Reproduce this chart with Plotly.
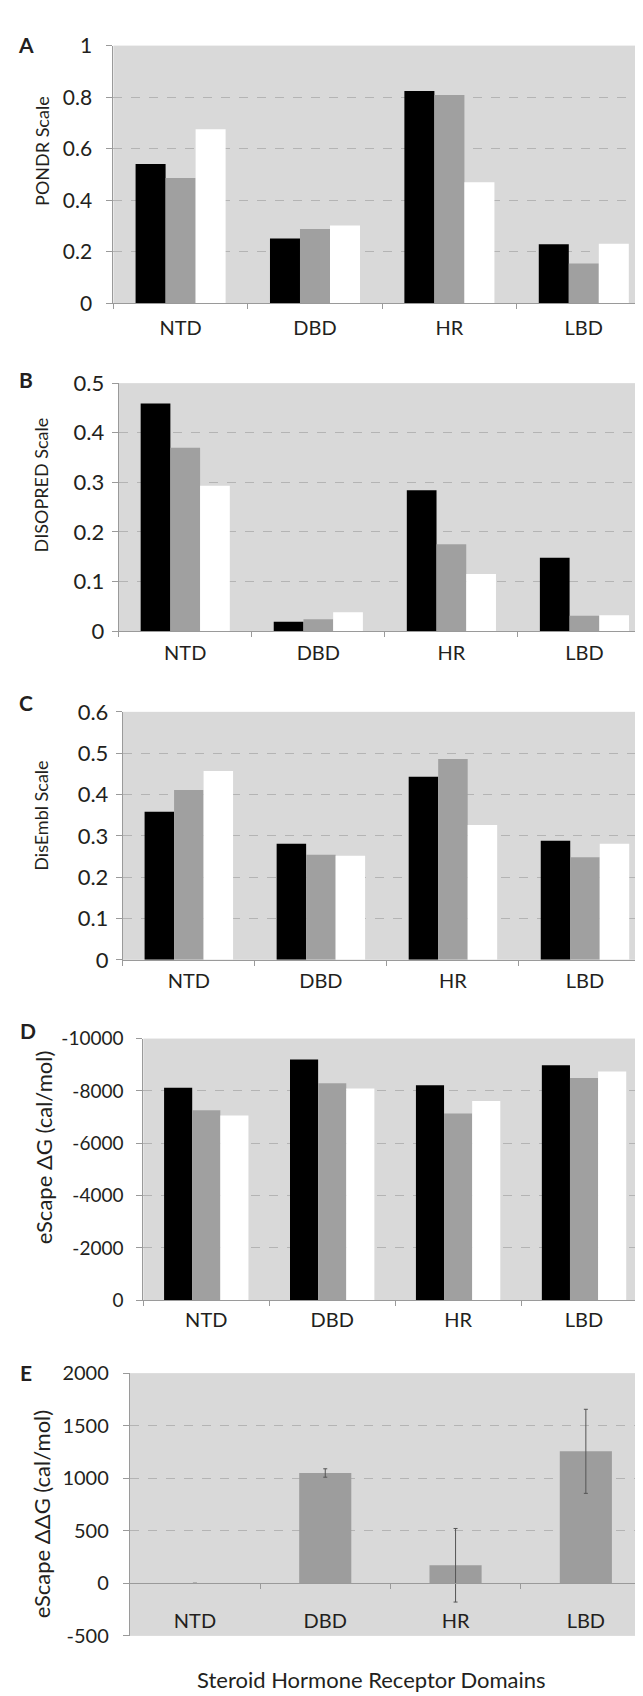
import plotly.graph_objects as go

# ---------------- data ----------------
categories = ["NTD", "DBD", "HR", "LBD"]

pondr_black = [0.541, 0.252, 0.824, 0.230]
pondr_gray = [0.487, 0.289, 0.808, 0.155]
pondr_white = [0.676, 0.302, 0.470, 0.232]

disopred_black = [0.459, 0.019, 0.284, 0.148]
disopred_gray = [0.370, 0.024, 0.175, 0.031]
disopred_white = [0.293, 0.038, 0.115, 0.032]

disembl_black = [0.358, 0.281, 0.443, 0.288]
disembl_gray = [0.411, 0.254, 0.486, 0.248]
disembl_white = [0.457, 0.252, 0.326, 0.281]

dg_black = [-8120, -9200, -8220, -8980]
dg_gray = [-7265, -8295, -7140, -8495]
dg_white = [-7065, -8095, -7615, -8745]

ddg_values = [0, 1050, 172, 1256]
ddg_errors = [0, 40, 350, 400]

ticks_a = [0, 0.2, 0.4, 0.6, 0.8, 1]
ticklabels_a = ["0", "0.2", "0.4", "0.6", "0.8", "1"]
ticks_b = [0, 0.1, 0.2, 0.3, 0.4, 0.5]
ticklabels_b = ["0", "0.1", "0.2", "0.3", "0.4", "0.5"]
ticks_c = [0, 0.1, 0.2, 0.3, 0.4, 0.5, 0.6]
ticklabels_c = ["0", "0.1", "0.2", "0.3", "0.4", "0.5", "0.6"]
ticks_d = [0, -2000, -4000, -6000, -8000, -10000]
ticklabels_d = ["0", "-2000", "-4000", "-6000", "-8000", "-10000"]
ticks_e = [-500, 0, 500, 1000, 1500, 2000]
ticklabels_e = ["-500", "0", "500", "1000", "1500", "2000"]

y_titles = ["PONDR Scale", "DISOPRED Scale", "DisEmbl Scale",
            "eScape \u0394G (cal/mol)", "eScape \u0394\u0394G (cal/mol)"]
panel_letters = ["A", "B", "C", "D", "E"]
x_title = "Steroid Hormone Receptor Domains"

# ---------------- styling / layout ----------------
W, H = 643, 1696
FONT = "Lato"
TXT = "#231f20"
BG = "#d9d9d9"
AXC = "#9a9a9a"
GRID = "#b4b4b4"
COL_BLACK = "#000000"
COL_GRAY = "#a0a0a0"
COL_WHITE = "#ffffff"


def xd(left, right):
    return [left / W, right / W]


def yd(top, bottom):
    return [1 - bottom / H, 1 - top / H]


panels = [
    dict(x=(105.4, 643), y=(24, 286), yr=[0, 1], tv=ticks_a, tt=ticklabels_a, tfs=21, xfs=20,
         series=[pondr_black, pondr_gray, pondr_white], tstand=10, xstand=7,
         ytx=34.5, yty=131.5, tfs_title=18, lx=18, ly=23),
    dict(x=(110.7, 643), y=(367, 619), yr=[0, 0.5], tv=ticks_b, tt=ticklabels_b, tfs=22, xfs=20,
         series=[disopred_black, disopred_gray, disopred_white], tstand=3, xstand=4,
         ytx=33, yty=471, tfs_title=18, lx=18, ly=363),
    dict(x=(114.8, 643), y=(701, 953), yr=[0, 0.6], tv=ticks_c, tt=ticklabels_c, tfs=22, xfs=20,
         series=[disembl_black, disembl_gray, disembl_white], tstand=3, xstand=3,
         ytx=33, yty=806.5, tfs_title=18, lx=18, ly=692),
    dict(x=(135.3, 639), y=(1033, 1299), yr=[0, -10000], tv=ticks_d, tt=ticklabels_d, tfs=19, xfs=20,
         series=[dg_black, dg_gray, dg_white], tstand=9, xstand=2,
         ytx=35, yty=1143.5, tfs_title=22, lx=20, ly=1025),
    dict(x=(121.8, 643), y=(1373, 1640), yr=[-500, 2000], tv=ticks_e, tt=ticklabels_e, tfs=20, xfs=20,
         series=None, tstand=10, xstand=20,
         ytx=33, yty=1516.5, tfs_title=22, lx=18, ly=1372),
]

fig = go.Figure()
colors = [COL_BLACK, COL_GRAY, COL_WHITE]
layout_axes = {}
annotations = []

for i, p in enumerate(panels):
    n = "" if i == 0 else str(i + 1)
    xa, ya = "x" + n, "y" + n
    if p["series"] is not None:
        for vals, c in zip(p["series"], colors):
            fig.add_trace(go.Bar(x=categories, y=vals, marker=dict(color=c, line=dict(width=0)),
                                 xaxis=xa, yaxis=ya, showlegend=False))
    else:
        fig.add_trace(go.Bar(x=categories, y=ddg_values, width=0.4,
                             marker=dict(color="#9d9d9d", line=dict(width=0)),
                             error_y=dict(type="data", array=ddg_errors, visible=True,
                                          color="#555555", thickness=1, width=2),
                             xaxis=xa, yaxis=ya, showlegend=False))

    xaxis = dict(domain=xd(*p["x"]), type="category", range=[-0.5, 3.5],
                 showline=True, linecolor=AXC, linewidth=1,
                 ticks="outside", tickson="boundaries", ticklen=5, tickcolor=AXC,
                 tickfont=dict(family=FONT, size=p["xfs"], color=TXT),
                 ticklabelstandoff=p["xstand"], showgrid=False, zeroline=False,
                 fixedrange=True)
    if i == 4:
        y0, y1 = p["yr"]
        dom = yd(*p["y"])
        pos = dom[0] + (0 - y0) / (y1 - y0) * (dom[1] - dom[0])
        xaxis.update(anchor="free", position=pos)
    else:
        xaxis.update(anchor=ya)

    yaxis = dict(domain=yd(*p["y"]), range=p["yr"], anchor=xa,
                 tickmode="array", tickvals=p["tv"], ticktext=p["tt"],
                 showline=True, linecolor=AXC, linewidth=1,
                 ticks="outside", ticklen=6, tickcolor=AXC,
                 tickfont=dict(family=FONT, size=p["tfs"], color=TXT),
                 ticklabelstandoff=p["tstand"],
                 showgrid=True, gridcolor=GRID, gridwidth=1, griddash="dash",
                 zeroline=False, fixedrange=True)
    layout_axes["xaxis" + n] = xaxis
    layout_axes["yaxis" + n] = yaxis

    annotations.append(dict(text=y_titles[i], x=p["ytx"] / W, y=1 - p["yty"] / H,
                            xref="paper", yref="paper", textangle=-90, showarrow=False,
                            xanchor="center", yanchor="middle",
                            font=dict(family=FONT, size=p["tfs_title"], color=TXT)))
    annotations.append(dict(text="<b>" + panel_letters[i] + "</b>", x=p["lx"] / W, y=1 - p["ly"] / H,
                            xref="paper", yref="paper", showarrow=False,
                            xanchor="center", yanchor="middle",
                            font=dict(family=FONT, size=21, color=TXT)))

annotations.append(dict(text=x_title, x=363 / W, y=1 - 1684 / H, xref="paper", yref="paper",
                        showarrow=False, xanchor="center", yanchor="middle",
                        font=dict(family=FONT, size=22, color=TXT)))

fig.update_layout(
    width=W, height=H,
    margin=dict(l=0, r=0, t=0, b=0),
    paper_bgcolor="white", plot_bgcolor=BG,
    barmode="group", bargap=0.33, bargroupgap=0,
    showlegend=False,
    annotations=annotations,
    **layout_axes,
)

fig.write_html("out.html")
